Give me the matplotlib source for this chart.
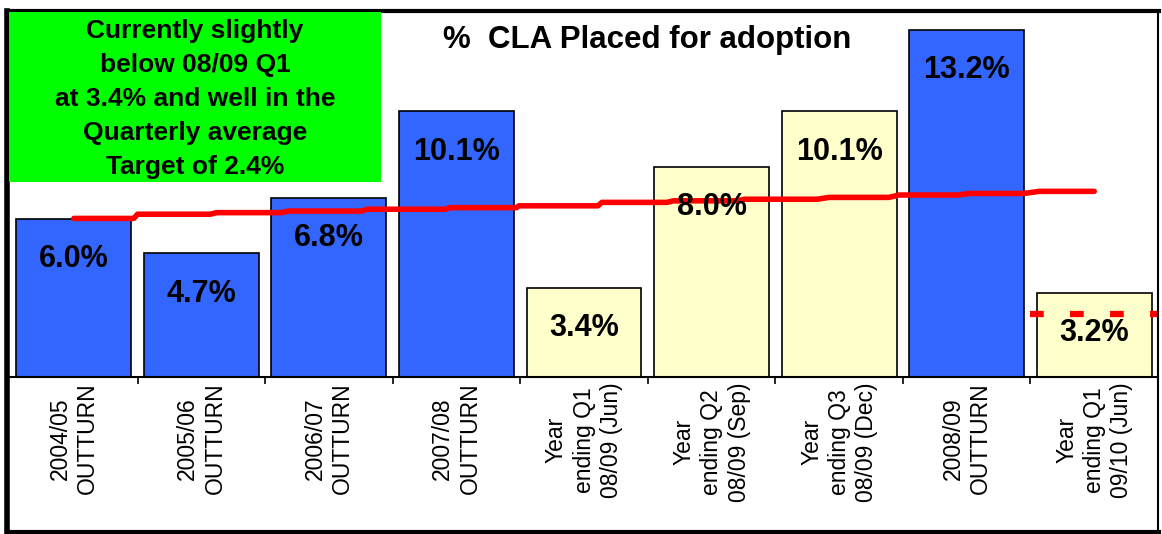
import matplotlib.pyplot as plt
from matplotlib.lines import Line2D
from matplotlib.patches import Rectangle

plt.rcParams['font.family'] = ['Liberation Sans', 'DejaVu Sans']

categories = ['2004/05\nOUTTURN', '2005/06\nOUTTURN', '2006/07\nOUTTURN', '2007/08\nOUTTURN',
              'Year\nending Q1\n08/09 (Jun)', 'Year\nending Q2\n08/09 (Sep)',
              'Year\nending Q3\n08/09 (Dec)', '2008/09\nOUTTURN',
              'Year\nending Q1\n09/10 (Jun)']
values = [6.0, 4.7, 6.8, 10.1, 3.4, 8.0, 10.1, 13.2, 3.2]
is_outturn = [True, True, True, True, False, False, False, True, False]

# red trend line (x in category units)
trend_x = [0.00, 0.47, 0.50, 1.07, 1.12, 1.63, 1.68, 2.26, 2.30, 2.91, 2.95, 3.47, 3.49, 4.11,
           4.14, 4.65, 4.70, 5.20, 5.26, 5.83, 5.92, 6.39, 6.47, 6.93, 7.02, 7.45, 7.57, 8.00]
trend_y = [6.03, 6.03, 6.19, 6.19, 6.25, 6.25, 6.31, 6.31, 6.38, 6.38, 6.44, 6.44, 6.51, 6.51,
           6.64, 6.64, 6.70, 6.70, 6.76, 6.76, 6.83, 6.83, 6.92, 6.92, 6.98, 6.98, 7.06, 7.06]

target_x = [7.5, 8.5]
target_y = [2.4, 2.4]

note = 'Currently slightly\nbelow 08/09 Q1\nat 3.4% and well in the\nQuarterly average\nTarget of 2.4%'

W, H = 1162, 534
fig = plt.figure(figsize=(W / 100, H / 100), dpi=100)
ax = fig.add_axes([10 / W, (H - 377) / H, (1158 - 10) / W, (377 - 12) / H])

cols = ['#3366FF' if o else '#FFFFCC' for o in is_outturn]
x = list(range(len(values)))
ax.bar(x, values, width=0.9, color=cols, edgecolor='black', linewidth=1.2, zorder=2)

for xi, v in zip(x, values):
    ax.annotate(f'{v:.1f}%', (xi, v), xytext=(0, -29), textcoords='offset points',
                ha='center', va='center', fontsize=22, fontweight='bold', zorder=6)

ax.plot(trend_x, trend_y, color='#FF0000', lw=4, solid_capstyle='round', zorder=4)
ax.plot(target_x, target_y, color='#FF0000', lw=4.5, linestyle=(0, (2.2, 4.2)), zorder=4)

ax.set_xlim(-0.5, 8.5)
ax.set_ylim(0, 13.88)
ax.set_yticks([])
for s in ['top', 'right', 'left']:
    ax.spines[s].set_visible(False)
ax.spines['bottom'].set_linewidth(1.5)

ax.set_xticks([i + 0.5 for i in range(len(values) - 1)])
ax.set_xticklabels([])
ax.tick_params(axis='x', which='major', length=5, width=1.2, direction='out')
ax.set_xticks(x, minor=True)
ax.set_xticklabels(categories, minor=True, rotation=90, fontsize=16.5,
                   multialignment='center', linespacing=1.25)
ax.tick_params(axis='x', which='minor', length=0, pad=4)

ax.text(0.555, 0.923, '%  CLA Placed for adoption', transform=ax.transAxes,
        ha='center', va='center', fontsize=22.5, fontweight='bold')

# green note box
fig.patches.append(Rectangle((9 / W, (H - 182) / H), (381 - 9) / W, (182 - 12) / H,
                             transform=fig.transFigure, facecolor='#00FF00',
                             edgecolor='none', zorder=5))
fig.text(195 / W, (H - 99) / H, note, ha='center', va='center', fontsize=19,
         fontweight='bold', linespacing=1.52, zorder=6)

# chart border
for (x0, y0, x1, y1, lw) in [(7, 11, 7, 532, 4), (7, 532, 1159, 532, 3),
                             (7, 11, 1159, 11, 3), (1158, 11, 1158, 532, 1.5)]:
    fig.lines.append(Line2D([x0 / W, x1 / W], [(H - y0) / H, (H - y1) / H],
                            transform=fig.transFigure, color='black', lw=lw))

fig.savefig('out.png', dpi=100)
